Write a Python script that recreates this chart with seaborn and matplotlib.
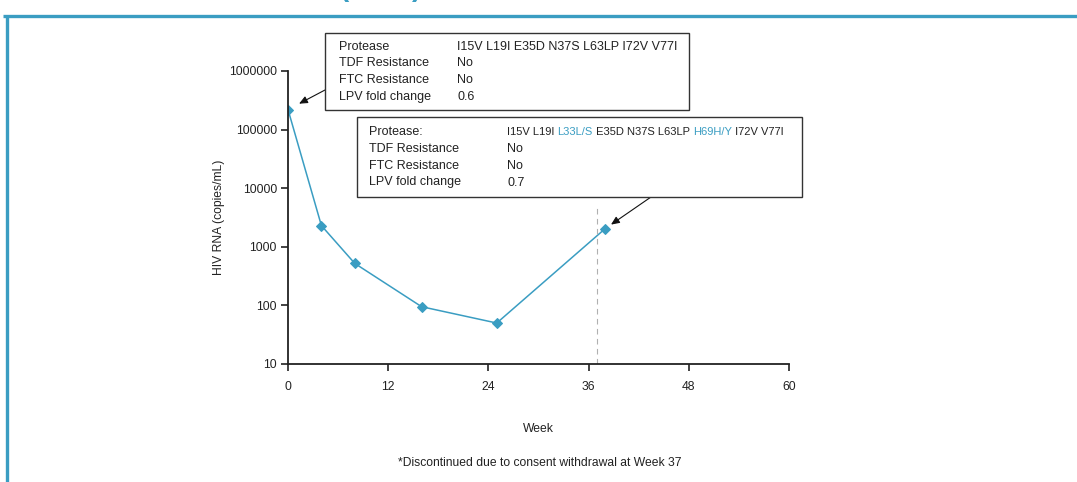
import matplotlib
matplotlib.use("Agg")
import matplotlib.pyplot as plt
import seaborn as sns
import pandas as pd
import numpy as np
from matplotlib.lines import Line2D
from matplotlib.patches import Rectangle
from matplotlib import font_manager

# ---- data ----
weeks = [0, 4, 8, 16, 25, 38]
hiv_rna = [220000, 2300, 520, 95, 50, 2050]
discontinue_week = 37
x_ticks = [0, 12, 24, 36, 48, 60]
y_ticks = [10, 100, 1000, 10000, 100000, 1000000]

box1_labels = ["Protease", "TDF Resistance", "FTC Resistance", "LPV fold change"]
box1_values = ["I15V L19I E35D N37S L63LP I72V V77I", "No", "No", "0.6"]
box2_labels = ["Protease:", "TDF Resistance", "FTC Resistance", "LPV fold change"]
box2_protease = [("I15V L19I ", False), ("L33L/S", True), (" E35D N37S L63LP ", False),
                 ("H69H/Y", True), (" I72V V77I", False)]
box2_values = ["No", "No", "0.7"]

x_label = "Week"
y_label = "HIV RNA (copies/mL)"
footnote = "*Discontinued due to consent withdrawal at Week 37"

TEAL = "#3a9dc2"
W, H = 1077, 482

sns.set_style("ticks")
plt.rcParams['font.family'] = ['Liberation Sans', 'DejaVu Sans']

installed = {f.name for f in font_manager.fontManager.ttflist}
if "Liberation Sans Narrow" in installed:
    NARROW = ["Liberation Sans Narrow", "DejaVu Sans"]
    PFS = 9.5
else:
    NARROW = ["Liberation Sans", "DejaVu Sans"]
    PFS = 8.0

fig = plt.figure(figsize=(W / 100, H / 100), dpi=100)

def fx(px):
    return px / W

def fy(py):
    return 1 - py / H

ax = fig.add_axes([fx(288), fy(364), fx(789) - fx(288), fy(71) - fy(364)])

df = pd.DataFrame({"week": weeks, "rna": hiv_rna})
sns.lineplot(data=df, x="week", y="rna", ax=ax, color=TEAL, lw=1.1,
             marker="D", markersize=5.5, markeredgecolor=TEAL, markerfacecolor=TEAL)

ax.set_yscale("log")
ax.set_xlim(0, 60)
ax.set_ylim(10, 1000000)
ax.set_xticks(x_ticks)
ax.set_xticklabels([str(t) for t in x_ticks])
ax.set_yticks(y_ticks)
ax.set_yticklabels([str(t) for t in y_ticks])
ax.yaxis.set_minor_locator(matplotlib.ticker.NullLocator())
ax.tick_params(axis="both", direction="out", length=5, width=1.2, color="#222",
               labelsize=8.7, labelcolor="#222")
ax.tick_params(axis="x", pad=7)
ax.tick_params(axis="y", pad=3)
for s in ["top", "right"]:
    ax.spines[s].set_visible(False)
for s in ["left", "bottom"]:
    ax.spines[s].set_linewidth(1.3)
    ax.spines[s].set_color("#222")
ax.set_xlabel(x_label, fontsize=8.7, color="#222", labelpad=22)
ax.set_ylabel(y_label, fontsize=8.7, color="#222", labelpad=3)
ax.grid(False)

ax.vlines(discontinue_week, 10, 5200, colors="#b0b0b0", linestyles=(0, (5, 4)), lw=0.8)

fig.text(fx(540), fy(463), footnote, ha="center", va="center", fontsize=8.7, color="#222")

# ---- annotation boxes ----
def draw_box(x0, y0, x1, y1):
    r = Rectangle((fx(x0), fy(y1)), fx(x1) - fx(x0), fy(y0) - fy(y1),
                  transform=fig.transFigure, facecolor="white", edgecolor="#333",
                  lw=1.0, zorder=5)
    fig.add_artist(r)

draw_box(325, 33, 689, 110)
draw_box(357, 117, 802, 197)

rows1 = [47, 63.5, 80, 97]
for lab, val, yy in zip(box1_labels, box1_values, rows1):
    fig.text(fx(339), fy(yy), lab, ha="left", va="center", fontsize=9, color="#222", zorder=6)
    fig.text(fx(457), fy(yy), val, ha="left", va="center", fontsize=9, color="#222", zorder=6)

rows2 = [132, 149, 166, 182.5]
for lab, yy in zip(box2_labels, rows2):
    fig.text(fx(369), fy(yy), lab, ha="left", va="center", fontsize=9, color="#222", zorder=6)
for val, yy in zip(box2_values, rows2[1:]):
    fig.text(fx(507), fy(yy), val, ha="left", va="center", fontsize=9, color="#222", zorder=6)

# protease line of box 2, with highlighted mutations in teal
pieces = []
for i, (txt, hl) in enumerate(box2_protease):
    t = fig.text(fx(507), fy(rows2[0]), txt, ha="left", va="center", fontsize=PFS,
                 family=NARROW, color=TEAL if hl else "#222", zorder=6)
    pieces.append(t)
fig.canvas.draw()
renderer = fig.canvas.get_renderer()
x_cur = pieces[0].get_window_extent(renderer).x1
for t in pieces[1:]:
    t.set_position((x_cur / W, fy(rows2[0])))
    fig.canvas.draw()
    x_cur = t.get_window_extent(renderer).x1

# ---- arrows ----
ax.annotate("", xy=(weeks[0], hiv_rna[0]), xycoords="data",
            xytext=(fx(325), fy(90)), textcoords="figure fraction",
            arrowprops=dict(arrowstyle="-|>,head_length=0.5,head_width=0.22", color="#111",
                            lw=0.8, shrinkA=0, shrinkB=9), annotation_clip=False, zorder=7)
ax.annotate("", xy=(weeks[-1], hiv_rna[-1]), xycoords="data",
            xytext=(fx(651), fy(197)), textcoords="figure fraction",
            arrowprops=dict(arrowstyle="-|>,head_length=0.5,head_width=0.22", color="#111",
                            lw=0.8, shrinkA=0, shrinkB=5), annotation_clip=False, zorder=7)

# ---- outer frame ----
fig.add_artist(Line2D([fx(3), 1], [fy(15.5), fy(15.5)], transform=fig.transFigure,
                      color=TEAL, lw=2.4, solid_capstyle="butt"))
fig.add_artist(Line2D([fx(7), fx(7)], [fy(15.5), 0], transform=fig.transFigure,
                      color=TEAL, lw=2.4, solid_capstyle="butt"))

# cropped title fragment at the very top (as in the reference)
fig.text(fx(340), fy(-4), "(", ha="left", va="baseline", fontsize=20,
         fontweight="bold", color=TEAL)
fig.text(fx(412), fy(-4), ")", ha="left", va="baseline", fontsize=20,
         fontweight="bold", color=TEAL)

fig.savefig("out.png", dpi=100, facecolor="white")
